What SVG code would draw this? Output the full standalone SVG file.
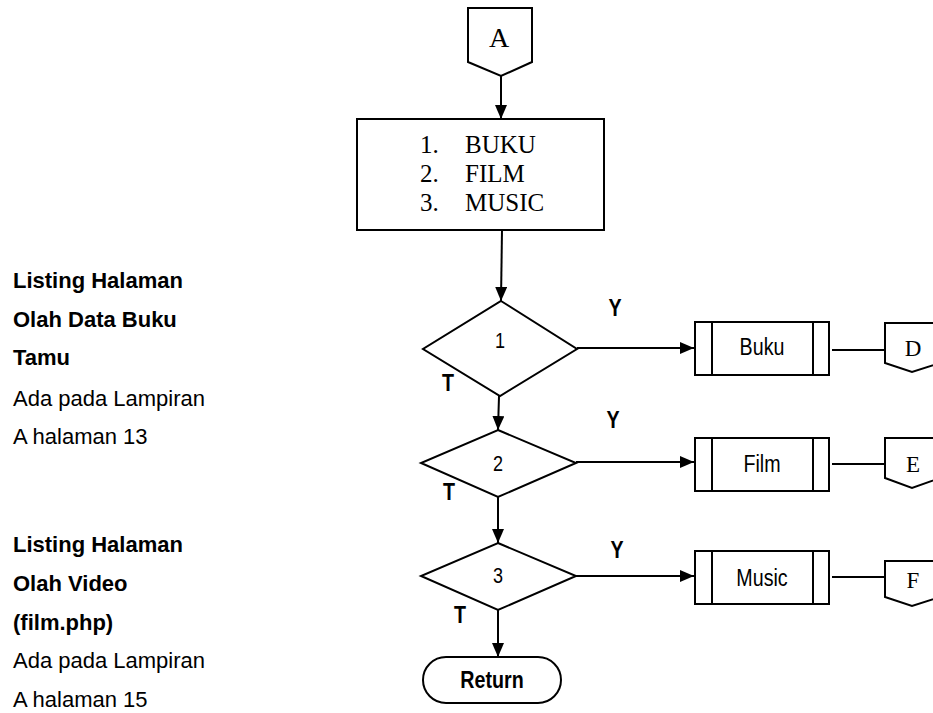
<svg xmlns="http://www.w3.org/2000/svg" width="933" height="713" viewBox="0 0 933 713">
<style>
.s{fill:#fff;stroke:#000;stroke-width:2}
.l{fill:none;stroke:#000;stroke-width:2}
.tm{font-family:"Liberation Serif","Times New Roman",serif;fill:#000}
.nr{font-family:"Liberation Sans",Arial,sans-serif;fill:#000;text-anchor:middle}
.b{font-weight:bold}
.side{font-family:"Liberation Sans",Arial,sans-serif;font-size:22px;fill:#000}
</style>
<defs>
<marker id="ah" markerUnits="userSpaceOnUse" markerWidth="15" markerHeight="12" refX="14" refY="6" orient="auto">
<path d="M0,0 L14,6 L0,12 Z" fill="#000"/>
</marker>
</defs>
<rect width="933" height="713" fill="#fff"/>

<g id="connectors">
<line class="l" x1="501" y1="76" x2="501" y2="119" marker-end="url(#ah)"/>
<line class="l" x1="502" y1="230" x2="501" y2="301" marker-end="url(#ah)"/>
<line class="l" x1="499" y1="396" x2="498" y2="430" marker-end="url(#ah)"/>
<line class="l" x1="498" y1="497" x2="498" y2="543" marker-end="url(#ah)"/>
<line class="l" x1="498" y1="610" x2="498" y2="657" marker-end="url(#ah)"/>
<line class="l" x1="577" y1="348" x2="694" y2="348" marker-end="url(#ah)"/>
<line class="l" x1="576" y1="462" x2="694" y2="462" marker-end="url(#ah)"/>
<line class="l" x1="576" y1="576" x2="694" y2="576" marker-end="url(#ah)"/>
<line class="l" x1="832" y1="350" x2="885" y2="350"/>
<line class="l" x1="832" y1="464" x2="885" y2="464"/>
<line class="l" x1="832" y1="577" x2="885" y2="577"/>
</g>

<g id="nodeA">
<path class="s" d="M468,8 L532,8 L532,62 L501,76 L468,62 Z"/>
<text class="tm" x="499" y="47" font-size="28" text-anchor="middle">A</text>
</g>

<g id="menu">
<rect class="s" x="357" y="119" width="247" height="111"/>
<text class="tm" font-size="25"><tspan x="420" y="153">1.</tspan><tspan x="465" y="153">BUKU</tspan><tspan x="420" y="182">2.</tspan><tspan x="465" y="182">FILM</tspan><tspan x="420" y="211">3.</tspan><tspan x="465" y="211">MUSIC</tspan></text>
</g>

<g id="dec1">
<path class="s" d="M501,301 L577,349 L500,396 L423,349 Z"/>
<text class="nr" transform="translate(500,348) scale(0.82,1)" font-size="22">1</text>
</g>
<g id="dec2">
<path class="s" d="M498,430 L576,463 L498,497 L421,463 Z"/>
<text class="nr" transform="translate(498,471) scale(0.82,1)" font-size="22">2</text>
</g>
<g id="dec3">
<path class="s" d="M498,543 L576,576 L498,610 L421,576 Z"/>
<text class="nr" transform="translate(498,583) scale(0.82,1)" font-size="22">3</text>
</g>

<g id="labels">
<text class="nr b" transform="translate(448,391) scale(0.82,1)" font-size="24">T</text>
<text class="nr b" transform="translate(449,500) scale(0.82,1)" font-size="24">T</text>
<text class="nr b" transform="translate(460,623) scale(0.82,1)" font-size="24">T</text>
<text class="nr b" transform="translate(615,316) scale(0.82,1)" font-size="24">Y</text>
<text class="nr b" transform="translate(613,428) scale(0.82,1)" font-size="24">Y</text>
<text class="nr b" transform="translate(617,558) scale(0.82,1)" font-size="24">Y</text>
</g>

<g id="procBuku">
<rect class="s" x="695" y="322" width="134" height="53"/>
<line class="l" x1="712" y1="322" x2="712" y2="375"/>
<line class="l" x1="813" y1="322" x2="813" y2="375"/>
<text class="nr" transform="translate(762,355) scale(0.82,1)" font-size="24">Buku</text>
</g>
<g id="procFilm">
<rect class="s" x="695" y="438" width="134" height="53"/>
<line class="l" x1="712" y1="438" x2="712" y2="491"/>
<line class="l" x1="813" y1="438" x2="813" y2="491"/>
<text class="nr" transform="translate(762,472) scale(0.82,1)" font-size="24">Film</text>
</g>
<g id="procMusic">
<rect class="s" x="695" y="551" width="134" height="53"/>
<line class="l" x1="712" y1="551" x2="712" y2="604"/>
<line class="l" x1="813" y1="551" x2="813" y2="604"/>
<text class="nr" transform="translate(762,586) scale(0.82,1)" font-size="24">Music</text>
</g>

<g id="offD">
<path class="s" d="M885,323 L940,323 L940,363 L912,372 L885,363 Z"/>
<text class="tm" x="913" y="356" font-size="23" text-anchor="middle">D</text>
</g>
<g id="offE">
<path class="s" d="M885,438 L940,438 L940,478 L912,488 L885,478 Z"/>
<text class="tm" x="913" y="472" font-size="23" text-anchor="middle">E</text>
</g>
<g id="offF">
<path class="s" d="M885,561 L940,561 L940,597 L912,606 L885,597 Z"/>
<text class="tm" x="913" y="588" font-size="23" text-anchor="middle">F</text>
</g>

<g id="return">
<rect class="s" x="423" y="657" width="138" height="46" rx="23" ry="23"/>
<text class="nr b" transform="translate(492,688) scale(0.82,1)" font-size="24">Return</text>
</g>

<g id="note1">
<text class="side b" x="13" y="288">Listing Halaman</text>
<text class="side b" x="13" y="327">Olah Data Buku</text>
<text class="side b" x="13" y="365">Tamu</text>
<text class="side" x="13" y="406">Ada pada Lampiran</text>
<text class="side" x="13" y="444">A halaman 13</text>
</g>
<g id="note2">
<text class="side b" x="13" y="552">Listing Halaman</text>
<text class="side b" x="13" y="591">Olah Video</text>
<text class="side b" x="13" y="630">(film.php)</text>
<text class="side" x="13" y="668">Ada pada Lampiran</text>
<text class="side" x="13" y="707">A halaman 15</text>
</g>
</svg>
